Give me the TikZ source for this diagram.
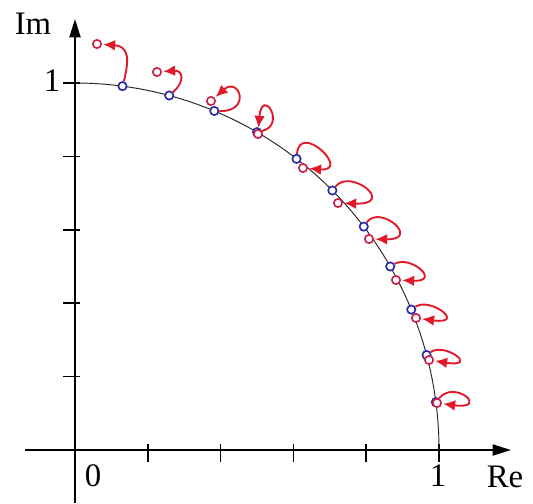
\documentclass[tikz,border=0pt]{standalone}
\usepackage{fontspec}
\setmainfont{Liberation Serif}
\usetikzlibrary{arrows.meta}
\definecolor{bluept}{RGB}{40,40,170}
\definecolor{redpt}{RGB}{205,30,70}
\definecolor{redarr}{RGB}{225,25,40}
\begin{document}
\begin{tikzpicture}[x=0.03cm,y=-0.03cm,
  axis/.style={line width=1.7pt, -{Triangle[length=0.55cm,width=0.33cm]}},
  tickline/.style={line width=1.5pt},
  bpt/.style={circle, draw=bluept, line width=1.4pt, fill=white, inner sep=0pt, minimum size=0.25cm},
  rpt/.style={circle, draw=redpt, line width=1.4pt, fill=white, inner sep=0pt, minimum size=0.25cm},
  looparr/.style={draw=redarr, line width=1.6pt, -{Latex[length=0.36cm,width=0.32cm]}, shorten >=1pt},
  lbl/.style={font=\fontsize{28}{30}\selectfont, inner sep=0pt}
]
\fill[white] (0,0) rectangle (533,503);
\useasboundingbox (0,0) rectangle (533,503);
% axes
\coordinate (xs) at (25,450);
\coordinate (xe) at (511,450);
\coordinate (ys) at (75,503);
\coordinate (ye) at (75,19);
\draw[axis] (xs) -- (xe);
\draw[axis] (ys) -- (ye);
\foreach \i in {1,...,5} {
  \draw[tickline] ({75+364*\i/5},444) -- ({75+364*\i/5},462);
  \draw[tickline] (63,{450-367*\i/5}) -- (80,{450-367*\i/5});
}
% unit circle
\draw[line width=0.8pt, black!85] plot[domain=0:90, samples=91, smooth] ({75+364*cos(\x)},{450-367*sin(\x)});
% labels
\node[lbl] (im) at (33,24) {Im};
\node[lbl] (y1) at (52,81) {1};
\node[lbl] (x0) at (93,476) {0};
\node[lbl] (x1) at (438,476) {1};
\node[lbl] (re) at (505,477) {Re};
% blue points on the circle
\foreach \i in {1,...,11}
  \node[bpt] (b\i) at ({75+364*cos(90-7.5*\i)},{450-367*sin(90-7.5*\i)}) {};
% red points
\node[rpt] (r1) at (97,44) {};
\node[rpt] (r2) at (157,72) {};
\node[rpt] (r3) at (211,101) {};
\node[rpt] (r4) at (258,134) {};
\node[rpt] (r5) at (303,168) {};
\node[rpt] (r6) at (338,203) {};
\node[rpt] (r7) at (369,239) {};
\node[rpt] (r8) at (396,280) {};
\node[rpt] (r9) at (416,318) {};
\node[rpt] (r10) at (429,360) {};
\node[rpt] (r11) at (437,403) {};
% loops
\draw[looparr] (b1) .. controls +(8,-30) and +(30,2) .. (r1);
\draw[looparr] (b2) .. controls +(16,-14) and +(26,-2) .. (r2);
\draw[looparr] (b3) .. controls +(38,1) and +(28,-25) .. (r3);
\draw[looparr] (b4) .. controls +(30,-7) and +(4,-48) .. (r4);
\draw[looparr] (b5) .. controls +(3,-38) and +(49,4) .. (r5);
\draw[looparr] (b6) .. controls +(18,-23) and +(59,2) .. (r6);
\draw[looparr] (b7) .. controls +(16,-23) and +(53,1) .. (r7);
\draw[looparr] (b8) .. controls +(20,-12) and +(46,2) .. (r8);
\draw[looparr] (b9) .. controls +(19,-13) and +(51,7) .. (r9);
\draw[looparr] (b10) .. controls +(18,-13) and +(51,8) .. (r10);
\draw[looparr] (b11) .. controls +(19,-23) and +(53,7) .. (r11);
\end{tikzpicture}
\end{document}
